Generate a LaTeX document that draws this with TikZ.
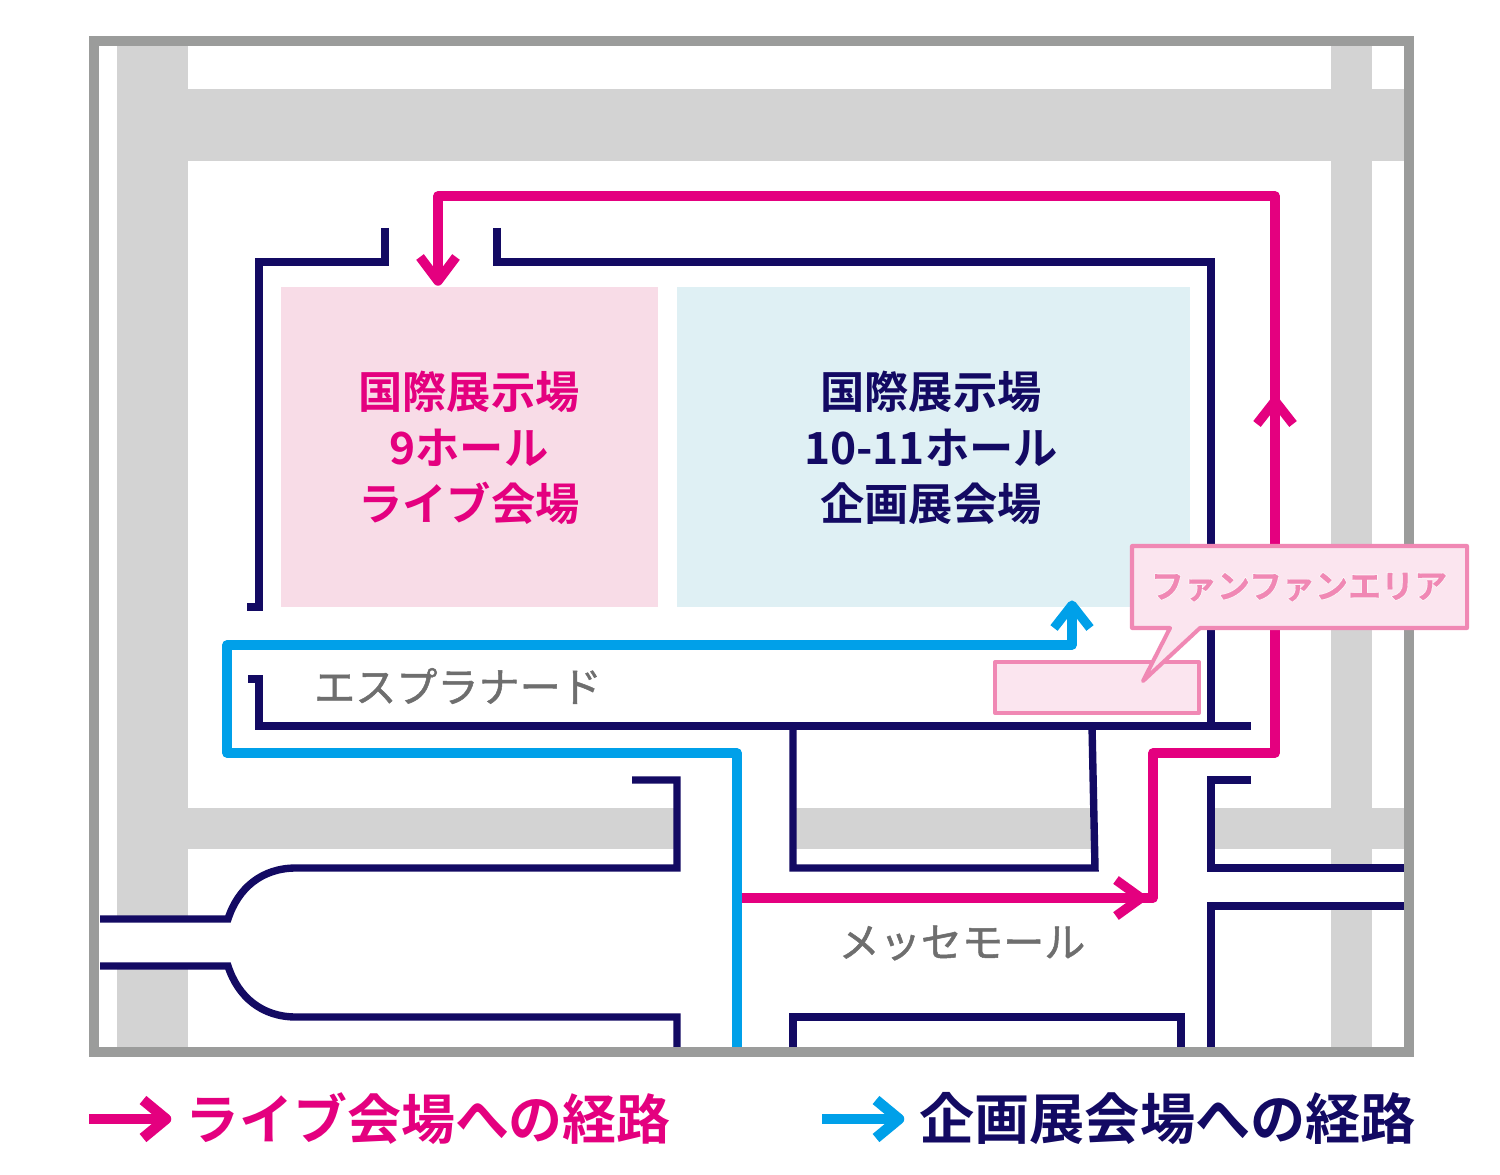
\documentclass[tikz,border=0pt]{standalone}
\usepackage{fontspec}
\setmainfont{Noto Sans CJK JP}
\newfontfamily\jpbold{Noto Sans CJK JP Bold}
\newfontfamily\jpmed[FakeBold=1.2]{Noto Sans CJK JP}
\newfontfamily\jpfan[FakeBold=0.5]{Noto Sans CJK JP Bold}
\newfontfamily\jphalo[FakeBold=4]{Noto Sans CJK JP Bold}
\definecolor{roadgrey}{HTML}{D3D3D3}
\definecolor{framegrey}{HTML}{9B9C9B}
\definecolor{navy}{HTML}{130A63}
\definecolor{livepink}{HTML}{E4007F}
\definecolor{expoblue}{HTML}{00A0E9}
\definecolor{livefill}{HTML}{F8DCE7}
\definecolor{expofill}{HTML}{DFF0F4}
\definecolor{fanline}{HTML}{F088B4}
\definecolor{fanfill}{HTML}{FBE5EF}
\definecolor{labelgrey}{HTML}{6E6E6E}
\tikzset{
  road/.style={fill=roadgrey,draw=none},
  wall/.style={draw=navy,line width=4.2pt,miter limit=10},
  liveroute/.style={draw=livepink,line width=5.4pt,line join=round},
  exporoute/.style={draw=expoblue,line width=5.2pt,line join=round},
  fanbox/.style={draw=fanline,fill=fanfill,line width=2.3pt,line join=round},
  hall/.style={inner sep=0pt,align=center,font=\jpbold\fontsize{25.2}{32}\selectfont},
  greylabel/.style={inner sep=0pt,text=labelgrey,font=\jpmed\fontsize{23.4}{28}\selectfont},
  legend/.style={inner sep=0pt,anchor=west}
}
\begin{document}
\begin{tikzpicture}[x=0.02cm,y=-0.02cm]
\useasboundingbox[fill=white] (0,0) rectangle (1500,1175);
% roads
\fill[road] (117,46) rectangle (188,1047);
\fill[road] (1331,46) rectangle (1372,1047);
\fill[road] (117,89) rectangle (1404,161);
\fill[road] (188,808) rectangle (1404,849);
% white corridors and halls over the roads
\fill[white] (99,919) rectangle (228,966);
\fill[white] (680,780) rectangle (790,1047);
\fill[white] (1095,780) rectangle (1208,1047);
\fill[white] (1214,871) rectangle (1404,903);
% venues
\fill[livefill] (281,287) rectangle (658,607);
\fill[expofill] (677,287) rectangle (1190,607);
% walls
\draw[wall] (385,228) -- (385,262) -- (259,262) -- (259,607) -- (247,607);
\draw[wall] (497,228) -- (497,262) -- (1211,262) -- (1211,726);
\draw[wall] (248,679) -- (259,679) -- (259,726) -- (1251,726);
\draw[wall] (793,726) -- (793,868) -- (1095,868) -- (1092,726);
\draw[wall] (632,780) -- (677,780) -- (677,868) -- (296,868)
  .. controls (262,868) and (238,888) .. (228,919) -- (100,919);
\draw[wall] (100,966) -- (228,966)
  .. controls (238,997) and (262,1017) .. (296,1017) -- (677,1017) -- (677,1047);
\draw[wall] (793,1047) -- (793,1017) -- (1181,1017) -- (1181,1047);
\draw[wall] (1251,780) -- (1211,780) -- (1211,868) -- (1404,868);
\draw[wall] (1404,906) -- (1211,906) -- (1211,1047);
% routes
\draw[liveroute] (741,898) -- (1153,898) -- (1153,753) -- (1275,753) -- (1275,196) -- (438,196) -- (438,281);
\draw[liveroute] (420,257) -- (438,281) -- (456,257);
\draw[liveroute] (1257,424) -- (1275,401) -- (1293,424);
\draw[liveroute] (1116,880) -- (1141,898) -- (1116,916);
\draw[exporoute] (737,1047) -- (737,753) -- (227,753) -- (227,645) -- (1072,645) -- (1072,605);
\draw[exporoute] (1054,628) -- (1072,605) -- (1090,628);
% frame
\draw[framegrey,line width=5.7pt] (94,41) rectangle (1409,1052);
% fan area
\draw[fanbox] (995,662) rectangle (1199,713);
\draw[fanbox] (1132,546) -- (1467,546) -- (1467,628) -- (1200,628) -- (1143,681) -- (1170,628) -- (1132,628) -- cycle;
% labels
\node[hall,text=livepink] (hallnine) at (469,448) {国際展示場\\9ホール\\ライブ会場};
\node[hall,text=navy] (hallten) at (931,448) {国際展示場\\10-11ホール\\企画展会場};
\node[greylabel] (esplanade) at (458,686) {エスプラナード};
\node[greylabel] (messemall) at (962,943) {メッセモール};
\node[inner sep=0pt,font=\jpfan\fontsize{18.8}{22}\selectfont,text=fanline] (fanlabel) at (1299,587)
  {\rlap{\color{white}\jphalo ファンファンエリア}ファンファンエリア};
% legend
\coordinate (livestart) at (89,1119);
\coordinate (liveend) at (165,1119);
\coordinate (expostart) at (822,1119);
\coordinate (expoend) at (898,1119);
\draw[livepink,line width=5.6pt] (livestart) -- (liveend);
\draw[livepink,line width=6pt,line join=round] (143,1100) -- (166,1119) -- (143,1138);
\draw[expoblue,line width=5.6pt] (expostart) -- (expoend);
\draw[expoblue,line width=6pt,line join=round] (876,1100) -- (899,1119) -- (876,1138);
\node[legend,text=livepink,font=\jpbold\fontsize{30.7}{34}\selectfont] (livelegend) at (185,1119) {ライブ会場への経路};
\node[legend,text=navy,font=\jpbold\fontsize{31.4}{34}\selectfont] (expolegend) at (919,1119) {企画展会場への経路};
\end{tikzpicture}
\end{document}
